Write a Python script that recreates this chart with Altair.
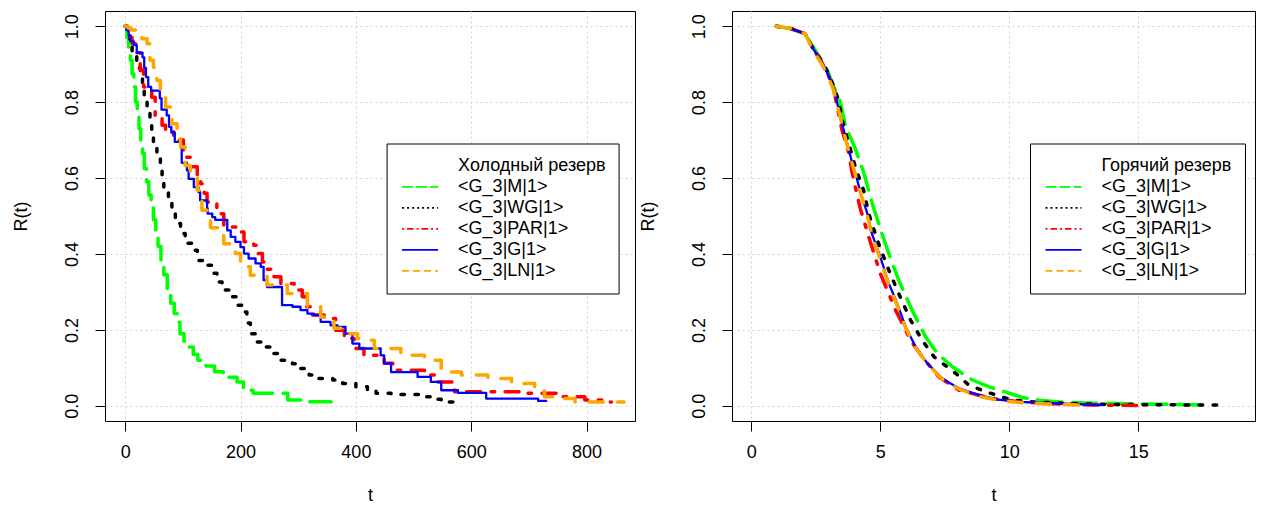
import altair as alt
import pandas as pd

# ---------------- data ----------------
SERIES = ["<G_3|M|1>", "<G_3|WG|1>", "<G_3|PAR|1>", "<G_3|G|1>", "<G_3|LN|1>"]
COLORS = ["#00FF00", "#000000", "#FF0000", "#0000FF", "#FFA500"]
TITLE_COLD = "Холодный резерв"
TITLE_HOT = "Горячий резерв"

# cold reserve (left)
T_M_COLD = [0, 3, 6, 9, 12, 15, 18, 21, 24, 27, 30, 33, 37, 41, 45, 49, 53, 57, 62, 67, 73, 79, 85, 90, 95,
            102, 110, 118, 126, 140, 155, 170, 180, 194, 205, 222, 282, 320, 357]
R_M_COLD = [1.0, 0.97, 0.945, 0.91, 0.875, 0.84, 0.80, 0.765, 0.73, 0.70, 0.665, 0.625, 0.59, 0.555, 0.525,
            0.49, 0.455, 0.42, 0.38, 0.345, 0.305, 0.27, 0.243, 0.22, 0.19, 0.17, 0.155, 0.135, 0.12, 0.105,
            0.09, 0.085, 0.075, 0.063, 0.041, 0.033, 0.015, 0.011, 0.01]
T_WG_COLD = [0, 4, 8, 12, 16, 20, 24, 27, 30, 33, 38, 43, 46, 49, 55, 61, 64, 67, 75, 81, 87, 96, 104, 116,
             125, 142, 151, 159, 168, 185, 194, 206, 211, 217, 226, 240, 255, 270, 290, 304, 319, 336, 360,
             377, 400, 420, 435, 461, 513, 530, 548, 577]
R_WG_COLD = [1.0, 0.99, 0.96, 0.935, 0.92, 0.91, 0.89, 0.865, 0.83, 0.81, 0.78, 0.752, 0.717, 0.686, 0.655,
             0.625, 0.59, 0.563, 0.537, 0.51, 0.48, 0.454, 0.428, 0.41, 0.383, 0.37, 0.349, 0.326, 0.305,
             0.287, 0.265, 0.247, 0.218, 0.19, 0.168, 0.155, 0.138, 0.12, 0.111, 0.098, 0.081, 0.072, 0.068,
             0.059, 0.05, 0.043, 0.033, 0.03, 0.024, 0.017, 0.01, 0.01]
T_PAR_COLD = [0, 3, 8, 12, 20, 26, 32, 46, 52, 64, 70, 84, 101, 104, 114, 125, 131, 137, 142, 154, 159, 171,
              194, 206, 223, 229, 238, 245, 258, 270, 293, 307, 313, 325, 345, 365, 380, 397, 414, 438, 449,
              464, 519, 542, 571, 640, 687, 756, 797, 830, 843]
R_PAR_COLD = [1.0, 0.99, 0.97, 0.954, 0.93, 0.883, 0.84, 0.813, 0.76, 0.739, 0.725, 0.70, 0.673, 0.655, 0.63,
              0.607, 0.585, 0.56, 0.537, 0.533, 0.506, 0.471, 0.458, 0.432, 0.423, 0.401, 0.379, 0.36, 0.34,
              0.322, 0.305, 0.287, 0.261, 0.239, 0.23, 0.199, 0.177, 0.151, 0.133, 0.129, 0.112, 0.094,
              0.081, 0.063, 0.037, 0.037, 0.033, 0.024, 0.015, 0.01, 0.01]
T_G_COLD = [0, 2, 6, 9, 15, 20, 30, 33, 36, 40, 45, 60, 63, 72, 76, 80, 86, 98, 107, 110, 119, 127, 130, 142,
            143, 151, 156, 177, 183, 191, 200, 206, 214, 226, 235, 240, 246, 272, 290, 304, 316, 327, 339,
            356, 368, 382, 394, 406, 443, 449, 461, 507, 530, 548, 577, 626, 716, 730]
R_G_COLD = [1.0, 0.99, 0.975, 0.96, 0.95, 0.93, 0.918, 0.89, 0.866, 0.84, 0.83, 0.81, 0.78, 0.765, 0.735,
            0.72, 0.695, 0.64, 0.62, 0.598, 0.576, 0.563, 0.541, 0.52, 0.506, 0.497, 0.49, 0.462, 0.445,
            0.432, 0.418, 0.401, 0.388, 0.375, 0.366, 0.331, 0.313, 0.265, 0.261, 0.252, 0.243, 0.239, 0.221,
            0.212, 0.208, 0.19, 0.164, 0.151, 0.133, 0.112, 0.089, 0.076, 0.063, 0.041, 0.034, 0.019, 0.013,
            0.013]
T_LN_COLD = [0, 5, 10, 20, 29, 38, 43, 49, 55, 61, 70, 81, 90, 96, 104, 113, 125, 133, 148, 171, 191, 200,
             217, 246, 281, 316, 339, 362, 380, 403, 414, 432, 478, 519, 548, 583, 629, 670, 710, 727, 751,
             780, 865]
R_LN_COLD = [1.0, 0.995, 0.99, 0.98, 0.967, 0.954, 0.91, 0.892, 0.857, 0.831, 0.787, 0.743, 0.725, 0.682,
             0.633, 0.612, 0.568, 0.515, 0.469, 0.427, 0.401, 0.366, 0.344, 0.318, 0.296, 0.261, 0.234, 0.204,
             0.19, 0.177, 0.173, 0.151, 0.133, 0.12, 0.089, 0.081, 0.072, 0.059, 0.041, 0.024, 0.019, 0.01,
             0.01]

# hot reserve (right)
T_M_HOT = [0.97, 1.56, 2.08, 2.4, 2.73, 3.0, 3.12, 3.45, 3.64, 4.03, 4.35, 4.7, 5.06, 5.33, 5.71, 6.23, 6.75,
           7.21, 7.79, 8.57, 9.22, 10.0, 10.5, 11.17, 11.95, 12.7, 14.15, 16.0, 17.8]
R_M_HOT = [1.0, 0.993, 0.98, 0.945, 0.91, 0.875, 0.853, 0.80, 0.739, 0.677, 0.616, 0.53, 0.454, 0.401, 0.331,
           0.252, 0.182, 0.138, 0.103, 0.068, 0.05, 0.033, 0.022, 0.015, 0.01, 0.008, 0.006, 0.004, 0.002]
T_WG_HOT = [0.97, 1.56, 2.08, 2.4, 2.73, 2.99, 3.2, 3.35, 3.57, 3.8, 4.03, 4.35, 4.55, 4.93, 5.33, 5.71, 6.17,
            6.62, 7.08, 7.93, 8.44, 9.09, 10.1, 11.0, 12.0, 13.5, 15.0, 18.05]
R_WG_HOT = [1.0, 0.993, 0.98, 0.94, 0.908, 0.875, 0.84, 0.81, 0.739, 0.685, 0.629, 0.568, 0.506, 0.427, 0.357,
            0.296, 0.226, 0.173, 0.129, 0.085, 0.054, 0.037, 0.015, 0.01, 0.007, 0.004, 0.003, 0.002]
T_PAR_HOT = [0.97, 1.56, 2.08, 2.4, 2.73, 2.99, 3.19, 3.32, 3.5, 3.77, 3.9, 4.03, 4.22, 4.55, 5.0, 5.59, 6.17,
             6.62, 7.27, 8.05, 8.83, 9.6, 10.5, 11.5, 13.1, 15.0]
R_PAR_HOT = [1.0, 0.993, 0.98, 0.94, 0.905, 0.87, 0.835, 0.79, 0.73, 0.668, 0.616, 0.576, 0.52, 0.445, 0.348,
             0.252, 0.173, 0.129, 0.076, 0.041, 0.028, 0.016, 0.01, 0.006, 0.002, 0.001]
T_G_HOT = [0.97, 1.56, 2.08, 2.4, 2.73, 2.99, 3.19, 3.32, 3.5, 3.7, 3.9, 4.09, 4.28, 4.48, 4.67, 5.0, 5.33,
           5.65, 5.98, 6.37, 6.82, 7.4, 8.05, 8.83, 9.6, 10.5, 11.5, 12.85, 13.6]
R_G_HOT = [1.0, 0.993, 0.98, 0.94, 0.905, 0.87, 0.835, 0.80, 0.747, 0.695, 0.642, 0.598, 0.55, 0.51, 0.454,
           0.392, 0.322, 0.27, 0.208, 0.155, 0.112, 0.072, 0.046, 0.028, 0.016, 0.01, 0.007, 0.004, 0.002]
T_LN_HOT = [0.97, 1.56, 2.08, 2.4, 2.73, 2.99, 3.19, 3.32, 3.5, 3.7, 3.9, 4.09, 4.28, 4.48, 4.67, 5.0, 5.33,
            5.65, 5.98, 6.37, 6.82, 7.4, 8.05, 8.83, 9.6, 10.5, 11.5, 12.85]
R_LN_HOT = [1.0, 0.993, 0.98, 0.935, 0.9, 0.865, 0.83, 0.795, 0.745, 0.69, 0.64, 0.595, 0.55, 0.505, 0.45,
            0.385, 0.318, 0.265, 0.205, 0.153, 0.11, 0.07, 0.044, 0.025, 0.014, 0.008, 0.005, 0.002]

COLD_T = [T_M_COLD, T_WG_COLD, T_PAR_COLD, T_G_COLD, T_LN_COLD]
COLD_R = [R_M_COLD, R_WG_COLD, R_PAR_COLD, R_G_COLD, R_LN_COLD]
HOT_T = [T_M_HOT, T_WG_HOT, T_PAR_HOT, T_G_HOT, T_LN_HOT]
HOT_R = [R_M_HOT, R_WG_HOT, R_PAR_HOT, R_G_HOT, R_LN_HOT]

X_TICKS_COLD = [0, 200, 400, 600, 800]
X_TICKS_HOT = [0, 5, 10, 15]
Y_TICKS = [0.0, 0.2, 0.4, 0.6, 0.8, 1.0]

# ---------------- styles ----------------
FONT = "Liberation Sans"
PLOT_DASH = [[24.5, 10.5], [3.5, 10.5], [3.5, 10.5, 14, 10.5], [1, 0], [14, 14]]
LEG_DASH = {SERIES[0]: [11, 3], SERIES[1]: [2, 3], SERIES[2]: [2, 3, 6.5, 3], SERIES[4]: [7, 4]}


def long_df(ts_list, rs_list):
    rows = []
    for name, ts, rs in zip(SERIES, ts_list, rs_list):
        for t, r in zip(ts, rs):
            rows.append({"series": name, "line": name, "t": t, "R": r})
    return pd.DataFrame(rows)


def panel(df, title, xdom, xticks, xfmt, width, interp, legend_x, title_x):
    domain = [title] + SERIES
    dash_expr = " : ".join(f"datum.value === '{k}' ? {v}" for k, v in LEG_DASH.items()) + " : [1, 0]"
    legend = alt.Legend(
        title=None, orient="none", legendX=legend_x, legendY=132.5,
        symbolType="stroke", symbolSize=1296, symbolStrokeWidth=1.7,
        symbolDash=alt.ExprRef(expr=dash_expr), symbolOffset=1.5,
        labelFont=FONT, labelFontSize=18, labelColor="black", labelLimit=400,
        labelOffset=19, padding=13, rowPadding=2, clipHeight=18.6,
        strokeColor="black", fillColor="white",
    )
    return alt.Chart(df).mark_line(
        interpolate=interp, strokeCap="round", strokeJoin="round", clip=True
    ).encode(
        x=alt.X("t:Q", scale=alt.Scale(domain=xdom, nice=False, zero=False),
                axis=alt.Axis(values=xticks, format=xfmt, title="t", labelBaseline="alphabetic",
                              labelPadding=26.6, titleX=width / 2, titleY=79,
                              titleBaseline="alphabetic", titleAlign="center")),
        y=alt.Y("R:Q", scale=alt.Scale(domain=[-0.04, 1.04], nice=False, zero=False),
                axis=alt.Axis(values=Y_TICKS, format=".1f", title="R(t)", labelAngle=-90,
                              labelAlign="center", labelBaseline="alphabetic", labelPadding=17.5,
                              titleAngle=-90, titleX=title_x, titleY=205,
                              titleBaseline="alphabetic", titleAlign="center")),
        color=alt.Color("series:N", scale=alt.Scale(domain=domain, range=["transparent"] + COLORS),
                        legend=legend),
        strokeDash=alt.StrokeDash("line:N", scale=alt.Scale(domain=SERIES, range=PLOT_DASH),
                                  legend=None),
        strokeWidth=alt.condition(alt.datum.series == SERIES[3], alt.value(2.3), alt.value(3.5)),
    ).properties(width=width, height=410)


left = panel(long_df(COLD_T, COLD_R), TITLE_COLD, [-35, 884], X_TICKS_COLD, "d", 530,
             "step-after", 281.6, -79)
right = panel(long_df(HOT_T, HOT_R), TITLE_HOT, [-0.75, 19.52], X_TICKS_HOT, "d", 523,
              "linear", 298, -79)

chart = alt.hconcat(left, right, spacing=2).resolve_scale(
    color="independent", strokeDash="independent"
).resolve_legend(
    color="independent"
).properties(
    padding={"left": 3, "top": 2, "right": 0, "bottom": 0}
).configure_view(
    stroke="black", strokeWidth=1
).configure_axis(
    labelFont=FONT, labelFontSize=18, labelColor="black",
    titleFont=FONT, titleFontSize=18, titleFontWeight="normal", titleColor="black",
    tickColor="black", tickSize=10, tickWidth=1, domain=False,
    grid=True, gridColor="#D3D3D3", gridDash=[2, 3], gridWidth=1,
)

chart.save("out.html", embed_options={"renderer": "svg", "actions": False})
